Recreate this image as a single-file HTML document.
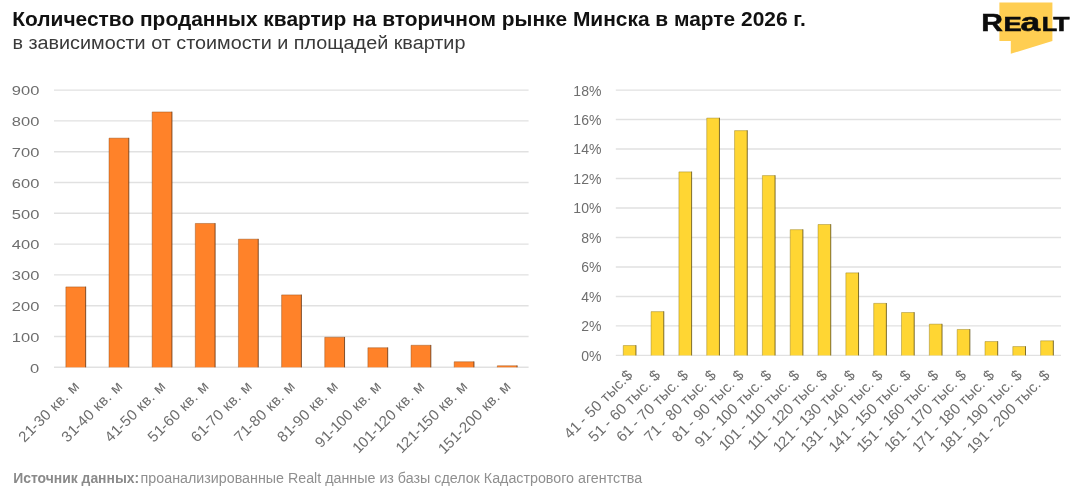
<!DOCTYPE html>
<html lang="ru"><head><meta charset="utf-8"><title>Количество проданных квартир</title>
<style>html,body{margin:0;padding:0;background:#fff}body{width:1080px;height:495px;overflow:hidden}svg{display:block;will-change:transform}text{font-family:"Liberation Sans", sans-serif}</style>
</head><body>
<svg width="1080" height="495" viewBox="0 0 1080 495">
<rect width="1080" height="495" fill="#ffffff"/>
<text x="12.3" y="26.3" font-size="20" font-weight="700" fill="#111111" textLength="793.5" lengthAdjust="spacingAndGlyphs">Количество проданных квартир на вторичном рынке Минска в марте 2026 г.</text>
<text x="12.4" y="48.8" font-size="18" fill="#3a3a3a" textLength="453" lengthAdjust="spacingAndGlyphs">в зависимости от стоимости и площадей квартир</text>
<path d="M999.4 2.6H1052.4V41L1010.8 53.8V41H999.4Z" fill="#FFCE52"/>
<text transform="translate(981.20 30.5) scale(1.220 1)" font-size="24.6" font-weight="700" fill="#0c0c0c" stroke="#0c0c0c" stroke-width="0.5" stroke-linejoin="miter">R</text>
<text transform="translate(1003.40 30.5) scale(1.400 1)" font-size="19.6" font-weight="700" fill="#0c0c0c" stroke="#0c0c0c" stroke-width="0.5" stroke-linejoin="miter">E</text>
<text transform="translate(1020.60 30.5) scale(1.340 1)" font-size="26.4" font-weight="700" fill="#0c0c0c" stroke="#0c0c0c" stroke-width="0.5" stroke-linejoin="miter">a</text>
<text transform="translate(1041.80 30.5) scale(1.300 1)" font-size="19.6" font-weight="700" fill="#0c0c0c" stroke="#0c0c0c" stroke-width="0.5" stroke-linejoin="miter">L</text>
<text transform="translate(1053.20 30.5) scale(1.360 1)" font-size="19.6" font-weight="700" fill="#0c0c0c" stroke="#0c0c0c" stroke-width="0.5" stroke-linejoin="miter">T</text>
<line x1="54.0" x2="528.6" y1="367.30" y2="367.30" stroke="#E1E1E1" stroke-width="1.4"/>
<text x="30.1" y="372.6" font-size="13.3" fill="#6e6e6e" textLength="9.2" lengthAdjust="spacingAndGlyphs">0</text>
<line x1="54.0" x2="528.6" y1="336.50" y2="336.50" stroke="#E1E1E1" stroke-width="1.4"/>
<text x="11.8" y="341.8" font-size="13.3" fill="#6e6e6e" textLength="27.5" lengthAdjust="spacingAndGlyphs">100</text>
<line x1="54.0" x2="528.6" y1="305.70" y2="305.70" stroke="#E1E1E1" stroke-width="1.4"/>
<text x="11.8" y="311.0" font-size="13.3" fill="#6e6e6e" textLength="27.5" lengthAdjust="spacingAndGlyphs">200</text>
<line x1="54.0" x2="528.6" y1="274.90" y2="274.90" stroke="#E1E1E1" stroke-width="1.4"/>
<text x="11.8" y="280.2" font-size="13.3" fill="#6e6e6e" textLength="27.5" lengthAdjust="spacingAndGlyphs">300</text>
<line x1="54.0" x2="528.6" y1="244.10" y2="244.10" stroke="#E1E1E1" stroke-width="1.4"/>
<text x="11.8" y="249.4" font-size="13.3" fill="#6e6e6e" textLength="27.5" lengthAdjust="spacingAndGlyphs">400</text>
<line x1="54.0" x2="528.6" y1="213.30" y2="213.30" stroke="#E1E1E1" stroke-width="1.4"/>
<text x="11.8" y="218.6" font-size="13.3" fill="#6e6e6e" textLength="27.5" lengthAdjust="spacingAndGlyphs">500</text>
<line x1="54.0" x2="528.6" y1="182.50" y2="182.50" stroke="#E1E1E1" stroke-width="1.4"/>
<text x="11.8" y="187.8" font-size="13.3" fill="#6e6e6e" textLength="27.5" lengthAdjust="spacingAndGlyphs">600</text>
<line x1="54.0" x2="528.6" y1="151.70" y2="151.70" stroke="#E1E1E1" stroke-width="1.4"/>
<text x="11.8" y="157.0" font-size="13.3" fill="#6e6e6e" textLength="27.5" lengthAdjust="spacingAndGlyphs">700</text>
<line x1="54.0" x2="528.6" y1="120.90" y2="120.90" stroke="#E1E1E1" stroke-width="1.4"/>
<text x="11.8" y="126.2" font-size="13.3" fill="#6e6e6e" textLength="27.5" lengthAdjust="spacingAndGlyphs">800</text>
<line x1="54.0" x2="528.6" y1="90.10" y2="90.10" stroke="#E1E1E1" stroke-width="1.4"/>
<text x="11.8" y="95.4" font-size="13.3" fill="#6e6e6e" textLength="27.5" lengthAdjust="spacingAndGlyphs">900</text>
<rect x="65.87" y="286.91" width="19.8" height="80.39" fill="#FF8229"/>
<path d="M65.87 367.30V286.91H85.67" fill="none" stroke="#8a4512" stroke-opacity="0.6" stroke-width="0.7"/>
<path d="M85.67 286.61V367.30" fill="none" stroke="#5a2c0a" stroke-opacity="0.85" stroke-width="0.9"/>
<text transform="translate(80.4 387.1) rotate(-45)" font-size="15" fill="#6e6e6e" text-anchor="end" letter-spacing="0.4">2<tspan letter-spacing="-0.6">1</tspan>-30 кв. м</text>
<rect x="109.02" y="138.15" width="19.8" height="229.15" fill="#FF8229"/>
<path d="M109.02 367.30V138.15H128.82" fill="none" stroke="#8a4512" stroke-opacity="0.6" stroke-width="0.7"/>
<path d="M128.82 137.85V367.30" fill="none" stroke="#5a2c0a" stroke-opacity="0.85" stroke-width="0.9"/>
<text transform="translate(123.5 387.1) rotate(-45)" font-size="15" fill="#6e6e6e" text-anchor="end" letter-spacing="0.4">3<tspan letter-spacing="-0.6">1</tspan>-40 кв. м</text>
<rect x="152.16" y="111.97" width="19.8" height="255.33" fill="#FF8229"/>
<path d="M152.16 367.30V111.97H171.96" fill="none" stroke="#8a4512" stroke-opacity="0.6" stroke-width="0.7"/>
<path d="M171.96 111.67V367.30" fill="none" stroke="#5a2c0a" stroke-opacity="0.85" stroke-width="0.9"/>
<text transform="translate(166.7 387.1) rotate(-45)" font-size="15" fill="#6e6e6e" text-anchor="end" letter-spacing="0.4">4<tspan letter-spacing="-0.6">1</tspan>-50 кв. м</text>
<rect x="195.31" y="223.46" width="19.8" height="143.84" fill="#FF8229"/>
<path d="M195.31 367.30V223.46H215.11" fill="none" stroke="#8a4512" stroke-opacity="0.6" stroke-width="0.7"/>
<path d="M215.11 223.16V367.30" fill="none" stroke="#5a2c0a" stroke-opacity="0.85" stroke-width="0.9"/>
<text transform="translate(209.8 387.1) rotate(-45)" font-size="15" fill="#6e6e6e" text-anchor="end" letter-spacing="0.4">5<tspan letter-spacing="-0.6">1</tspan>-60 кв. м</text>
<rect x="238.45" y="239.17" width="19.8" height="128.13" fill="#FF8229"/>
<path d="M238.45 367.30V239.17H258.25" fill="none" stroke="#8a4512" stroke-opacity="0.6" stroke-width="0.7"/>
<path d="M258.25 238.87V367.30" fill="none" stroke="#5a2c0a" stroke-opacity="0.85" stroke-width="0.9"/>
<text transform="translate(253.0 387.1) rotate(-45)" font-size="15" fill="#6e6e6e" text-anchor="end" letter-spacing="0.4">6<tspan letter-spacing="-0.6">1</tspan>-70 кв. м</text>
<rect x="281.60" y="294.92" width="19.8" height="72.38" fill="#FF8229"/>
<path d="M281.60 367.30V294.92H301.40" fill="none" stroke="#8a4512" stroke-opacity="0.6" stroke-width="0.7"/>
<path d="M301.40 294.62V367.30" fill="none" stroke="#5a2c0a" stroke-opacity="0.85" stroke-width="0.9"/>
<text transform="translate(296.1 387.1) rotate(-45)" font-size="15" fill="#6e6e6e" text-anchor="end" letter-spacing="0.4">7<tspan letter-spacing="-0.6">1</tspan>-80 кв. м</text>
<rect x="324.75" y="337.27" width="19.8" height="30.03" fill="#FF8229"/>
<path d="M324.75 367.30V337.27H344.55" fill="none" stroke="#8a4512" stroke-opacity="0.6" stroke-width="0.7"/>
<path d="M344.55 336.97V367.30" fill="none" stroke="#5a2c0a" stroke-opacity="0.85" stroke-width="0.9"/>
<text transform="translate(339.2 387.1) rotate(-45)" font-size="15" fill="#6e6e6e" text-anchor="end" letter-spacing="0.4">8<tspan letter-spacing="-0.6">1</tspan>-90 кв. м</text>
<rect x="367.89" y="347.74" width="19.8" height="19.56" fill="#FF8229"/>
<path d="M367.89 367.30V347.74H387.69" fill="none" stroke="#8a4512" stroke-opacity="0.6" stroke-width="0.7"/>
<path d="M387.69 347.44V367.30" fill="none" stroke="#5a2c0a" stroke-opacity="0.85" stroke-width="0.9"/>
<text transform="translate(382.4 387.1) rotate(-45)" font-size="15" fill="#6e6e6e" text-anchor="end" letter-spacing="0.4">9<tspan letter-spacing="-0.6">1</tspan>-<tspan letter-spacing="-0.6">1</tspan>00 кв. м</text>
<rect x="411.04" y="345.28" width="19.8" height="22.02" fill="#FF8229"/>
<path d="M411.04 367.30V345.28H430.84" fill="none" stroke="#8a4512" stroke-opacity="0.6" stroke-width="0.7"/>
<path d="M430.84 344.98V367.30" fill="none" stroke="#5a2c0a" stroke-opacity="0.85" stroke-width="0.9"/>
<text transform="translate(425.5 387.1) rotate(-45)" font-size="15" fill="#6e6e6e" text-anchor="end" letter-spacing="0.4"><tspan letter-spacing="-0.6">1</tspan>0<tspan letter-spacing="-0.6">1</tspan>-<tspan letter-spacing="-0.6">1</tspan>20 кв. м</text>
<rect x="454.18" y="361.76" width="19.8" height="5.54" fill="#FF8229"/>
<path d="M454.18 367.30V361.76H473.98" fill="none" stroke="#8a4512" stroke-opacity="0.6" stroke-width="0.7"/>
<path d="M473.98 361.46V367.30" fill="none" stroke="#5a2c0a" stroke-opacity="0.85" stroke-width="0.9"/>
<text transform="translate(468.7 387.1) rotate(-45)" font-size="15" fill="#6e6e6e" text-anchor="end" letter-spacing="0.4"><tspan letter-spacing="-0.6">1</tspan>2<tspan letter-spacing="-0.6">1</tspan>-<tspan letter-spacing="-0.6">1</tspan>50 кв. м</text>
<rect x="497.33" y="365.76" width="19.8" height="1.54" fill="#FF8229"/>
<path d="M497.33 367.30V365.76H517.13" fill="none" stroke="#8a4512" stroke-opacity="0.6" stroke-width="0.7"/>
<path d="M517.13 365.46V367.30" fill="none" stroke="#5a2c0a" stroke-opacity="0.85" stroke-width="0.9"/>
<text transform="translate(511.8 387.1) rotate(-45)" font-size="15" fill="#6e6e6e" text-anchor="end" letter-spacing="0.4"><tspan letter-spacing="-0.6">1</tspan>5<tspan letter-spacing="-0.6">1</tspan>-200 кв. м</text>
<line x1="615.8" x2="1061.0" y1="355.40" y2="355.40" stroke="#E1E1E1" stroke-width="1.4"/>
<text x="601.4" y="360.8" font-size="14" fill="#6e6e6e" text-anchor="end">0%</text>
<line x1="615.8" x2="1061.0" y1="325.92" y2="325.92" stroke="#E1E1E1" stroke-width="1.4"/>
<text x="601.4" y="331.3" font-size="14" fill="#6e6e6e" text-anchor="end">2%</text>
<line x1="615.8" x2="1061.0" y1="296.44" y2="296.44" stroke="#E1E1E1" stroke-width="1.4"/>
<text x="601.4" y="301.8" font-size="14" fill="#6e6e6e" text-anchor="end">4%</text>
<line x1="615.8" x2="1061.0" y1="266.96" y2="266.96" stroke="#E1E1E1" stroke-width="1.4"/>
<text x="601.4" y="272.4" font-size="14" fill="#6e6e6e" text-anchor="end">6%</text>
<line x1="615.8" x2="1061.0" y1="237.48" y2="237.48" stroke="#E1E1E1" stroke-width="1.4"/>
<text x="601.4" y="242.9" font-size="14" fill="#6e6e6e" text-anchor="end">8%</text>
<line x1="615.8" x2="1061.0" y1="208.00" y2="208.00" stroke="#E1E1E1" stroke-width="1.4"/>
<text x="601.4" y="213.4" font-size="14" fill="#6e6e6e" text-anchor="end">10%</text>
<line x1="615.8" x2="1061.0" y1="178.52" y2="178.52" stroke="#E1E1E1" stroke-width="1.4"/>
<text x="601.4" y="183.9" font-size="14" fill="#6e6e6e" text-anchor="end">12%</text>
<line x1="615.8" x2="1061.0" y1="149.04" y2="149.04" stroke="#E1E1E1" stroke-width="1.4"/>
<text x="601.4" y="154.4" font-size="14" fill="#6e6e6e" text-anchor="end">14%</text>
<line x1="615.8" x2="1061.0" y1="119.56" y2="119.56" stroke="#E1E1E1" stroke-width="1.4"/>
<text x="601.4" y="125.0" font-size="14" fill="#6e6e6e" text-anchor="end">16%</text>
<line x1="615.8" x2="1061.0" y1="90.08" y2="90.08" stroke="#E1E1E1" stroke-width="1.4"/>
<text x="601.4" y="95.5" font-size="14" fill="#6e6e6e" text-anchor="end">18%</text>
<rect x="623.26" y="345.52" width="12.7" height="9.88" fill="#FFD633"/>
<path d="M623.26 355.40V345.52H635.96" fill="none" stroke="#8a7416" stroke-opacity="0.6" stroke-width="0.7"/>
<path d="M635.96 345.22V355.40" fill="none" stroke="#54460c" stroke-opacity="0.85" stroke-width="0.9"/>
<text transform="translate(633.5 376.0) rotate(-45)" font-size="15" fill="#6e6e6e" text-anchor="end" letter-spacing="0.2">4<tspan letter-spacing="-1.0">1</tspan> - 50 тыс.$</text>
<rect x="651.09" y="311.62" width="12.7" height="43.78" fill="#FFD633"/>
<path d="M651.09 355.40V311.62H663.79" fill="none" stroke="#8a7416" stroke-opacity="0.6" stroke-width="0.7"/>
<path d="M663.79 311.32V355.40" fill="none" stroke="#54460c" stroke-opacity="0.85" stroke-width="0.9"/>
<text transform="translate(661.3 376.0) rotate(-45)" font-size="15" fill="#6e6e6e" text-anchor="end" letter-spacing="0.2">5<tspan letter-spacing="-1.0">1</tspan> - 60 тыс. $</text>
<rect x="678.91" y="171.89" width="12.7" height="183.51" fill="#FFD633"/>
<path d="M678.91 355.40V171.89H691.61" fill="none" stroke="#8a7416" stroke-opacity="0.6" stroke-width="0.7"/>
<path d="M691.61 171.59V355.40" fill="none" stroke="#54460c" stroke-opacity="0.85" stroke-width="0.9"/>
<text transform="translate(689.2 376.0) rotate(-45)" font-size="15" fill="#6e6e6e" text-anchor="end" letter-spacing="0.2">6<tspan letter-spacing="-1.0">1</tspan> - 70 тыс. $</text>
<rect x="706.74" y="118.09" width="12.7" height="237.31" fill="#FFD633"/>
<path d="M706.74 355.40V118.09H719.44" fill="none" stroke="#8a7416" stroke-opacity="0.6" stroke-width="0.7"/>
<path d="M719.44 117.79V355.40" fill="none" stroke="#54460c" stroke-opacity="0.85" stroke-width="0.9"/>
<text transform="translate(717.0 376.0) rotate(-45)" font-size="15" fill="#6e6e6e" text-anchor="end" letter-spacing="0.2">7<tspan letter-spacing="-1.0">1</tspan> - 80 тыс. $</text>
<rect x="734.56" y="130.61" width="12.7" height="224.78" fill="#FFD633"/>
<path d="M734.56 355.40V130.61H747.26" fill="none" stroke="#8a7416" stroke-opacity="0.6" stroke-width="0.7"/>
<path d="M747.26 130.31V355.40" fill="none" stroke="#54460c" stroke-opacity="0.85" stroke-width="0.9"/>
<text transform="translate(744.8 376.0) rotate(-45)" font-size="15" fill="#6e6e6e" text-anchor="end" letter-spacing="0.2">8<tspan letter-spacing="-1.0">1</tspan> - 90 тыс. $</text>
<rect x="762.39" y="175.57" width="12.7" height="179.83" fill="#FFD633"/>
<path d="M762.39 355.40V175.57H775.09" fill="none" stroke="#8a7416" stroke-opacity="0.6" stroke-width="0.7"/>
<path d="M775.09 175.27V355.40" fill="none" stroke="#54460c" stroke-opacity="0.85" stroke-width="0.9"/>
<text transform="translate(772.6 376.0) rotate(-45)" font-size="15" fill="#6e6e6e" text-anchor="end" letter-spacing="0.2">9<tspan letter-spacing="-1.0">1</tspan> - <tspan letter-spacing="-1.0">1</tspan>00 тыс. $</text>
<rect x="790.21" y="229.67" width="12.7" height="125.73" fill="#FFD633"/>
<path d="M790.21 355.40V229.67H802.91" fill="none" stroke="#8a7416" stroke-opacity="0.6" stroke-width="0.7"/>
<path d="M802.91 229.37V355.40" fill="none" stroke="#54460c" stroke-opacity="0.85" stroke-width="0.9"/>
<text transform="translate(800.5 376.0) rotate(-45)" font-size="15" fill="#6e6e6e" text-anchor="end" letter-spacing="0.2"><tspan letter-spacing="-1.0">1</tspan>0<tspan letter-spacing="-1.0">1</tspan> - <tspan letter-spacing="-1.0">1</tspan><tspan letter-spacing="-1.0">1</tspan>0 тыс. $</text>
<rect x="818.04" y="224.51" width="12.7" height="130.89" fill="#FFD633"/>
<path d="M818.04 355.40V224.51H830.74" fill="none" stroke="#8a7416" stroke-opacity="0.6" stroke-width="0.7"/>
<path d="M830.74 224.21V355.40" fill="none" stroke="#54460c" stroke-opacity="0.85" stroke-width="0.9"/>
<text transform="translate(828.3 376.0) rotate(-45)" font-size="15" fill="#6e6e6e" text-anchor="end" letter-spacing="0.2"><tspan letter-spacing="-1.0">1</tspan><tspan letter-spacing="-1.0">1</tspan><tspan letter-spacing="-1.0">1</tspan> - <tspan letter-spacing="-1.0">1</tspan>20 тыс. $</text>
<rect x="845.86" y="272.86" width="12.7" height="82.54" fill="#FFD633"/>
<path d="M845.86 355.40V272.86H858.56" fill="none" stroke="#8a7416" stroke-opacity="0.6" stroke-width="0.7"/>
<path d="M858.56 272.56V355.40" fill="none" stroke="#54460c" stroke-opacity="0.85" stroke-width="0.9"/>
<text transform="translate(856.1 376.0) rotate(-45)" font-size="15" fill="#6e6e6e" text-anchor="end" letter-spacing="0.2"><tspan letter-spacing="-1.0">1</tspan>2<tspan letter-spacing="-1.0">1</tspan> - <tspan letter-spacing="-1.0">1</tspan>30 тыс. $</text>
<rect x="873.69" y="303.37" width="12.7" height="52.03" fill="#FFD633"/>
<path d="M873.69 355.40V303.37H886.39" fill="none" stroke="#8a7416" stroke-opacity="0.6" stroke-width="0.7"/>
<path d="M886.39 303.07V355.40" fill="none" stroke="#54460c" stroke-opacity="0.85" stroke-width="0.9"/>
<text transform="translate(883.9 376.0) rotate(-45)" font-size="15" fill="#6e6e6e" text-anchor="end" letter-spacing="0.2"><tspan letter-spacing="-1.0">1</tspan>3<tspan letter-spacing="-1.0">1</tspan> - <tspan letter-spacing="-1.0">1</tspan>40 тыс. $</text>
<rect x="901.51" y="312.51" width="12.7" height="42.89" fill="#FFD633"/>
<path d="M901.51 355.40V312.51H914.21" fill="none" stroke="#8a7416" stroke-opacity="0.6" stroke-width="0.7"/>
<path d="M914.21 312.21V355.40" fill="none" stroke="#54460c" stroke-opacity="0.85" stroke-width="0.9"/>
<text transform="translate(911.8 376.0) rotate(-45)" font-size="15" fill="#6e6e6e" text-anchor="end" letter-spacing="0.2"><tspan letter-spacing="-1.0">1</tspan>4<tspan letter-spacing="-1.0">1</tspan> - <tspan letter-spacing="-1.0">1</tspan>50 тыс. $</text>
<rect x="929.34" y="324.15" width="12.7" height="31.25" fill="#FFD633"/>
<path d="M929.34 355.40V324.15H942.04" fill="none" stroke="#8a7416" stroke-opacity="0.6" stroke-width="0.7"/>
<path d="M942.04 323.85V355.40" fill="none" stroke="#54460c" stroke-opacity="0.85" stroke-width="0.9"/>
<text transform="translate(939.6 376.0) rotate(-45)" font-size="15" fill="#6e6e6e" text-anchor="end" letter-spacing="0.2"><tspan letter-spacing="-1.0">1</tspan>5<tspan letter-spacing="-1.0">1</tspan> - <tspan letter-spacing="-1.0">1</tspan>60 тыс. $</text>
<rect x="957.16" y="329.46" width="12.7" height="25.94" fill="#FFD633"/>
<path d="M957.16 355.40V329.46H969.86" fill="none" stroke="#8a7416" stroke-opacity="0.6" stroke-width="0.7"/>
<path d="M969.86 329.16V355.40" fill="none" stroke="#54460c" stroke-opacity="0.85" stroke-width="0.9"/>
<text transform="translate(967.4 376.0) rotate(-45)" font-size="15" fill="#6e6e6e" text-anchor="end" letter-spacing="0.2"><tspan letter-spacing="-1.0">1</tspan>6<tspan letter-spacing="-1.0">1</tspan> - <tspan letter-spacing="-1.0">1</tspan>70 тыс. $</text>
<rect x="984.99" y="341.54" width="12.7" height="13.86" fill="#FFD633"/>
<path d="M984.99 355.40V341.54H997.69" fill="none" stroke="#8a7416" stroke-opacity="0.6" stroke-width="0.7"/>
<path d="M997.69 341.24V355.40" fill="none" stroke="#54460c" stroke-opacity="0.85" stroke-width="0.9"/>
<text transform="translate(995.2 376.0) rotate(-45)" font-size="15" fill="#6e6e6e" text-anchor="end" letter-spacing="0.2"><tspan letter-spacing="-1.0">1</tspan>7<tspan letter-spacing="-1.0">1</tspan> - <tspan letter-spacing="-1.0">1</tspan>80 тыс. $</text>
<rect x="1012.81" y="346.56" width="12.7" height="8.84" fill="#FFD633"/>
<path d="M1012.81 355.40V346.56H1025.51" fill="none" stroke="#8a7416" stroke-opacity="0.6" stroke-width="0.7"/>
<path d="M1025.51 346.26V355.40" fill="none" stroke="#54460c" stroke-opacity="0.85" stroke-width="0.9"/>
<text transform="translate(1023.1 376.0) rotate(-45)" font-size="15" fill="#6e6e6e" text-anchor="end" letter-spacing="0.2"><tspan letter-spacing="-1.0">1</tspan>8<tspan letter-spacing="-1.0">1</tspan> - <tspan letter-spacing="-1.0">1</tspan>90 тыс. $</text>
<rect x="1040.64" y="340.81" width="12.7" height="14.59" fill="#FFD633"/>
<path d="M1040.64 355.40V340.81H1053.34" fill="none" stroke="#8a7416" stroke-opacity="0.6" stroke-width="0.7"/>
<path d="M1053.34 340.51V355.40" fill="none" stroke="#54460c" stroke-opacity="0.85" stroke-width="0.9"/>
<text transform="translate(1050.9 376.0) rotate(-45)" font-size="15" fill="#6e6e6e" text-anchor="end" letter-spacing="0.2"><tspan letter-spacing="-1.0">1</tspan>9<tspan letter-spacing="-1.0">1</tspan> - 200 тыс. $</text>
<text x="13.2" y="483.2" font-size="14" font-weight="700" fill="#8a8a8a" textLength="126" lengthAdjust="spacingAndGlyphs">Источник данных:</text>
<text x="140.6" y="483.2" font-size="14" fill="#8f8f8f" textLength="501.5" lengthAdjust="spacingAndGlyphs">проанализированные Realt данные из базы сделок Кадастрового агентства</text>
</svg>
</body></html>
